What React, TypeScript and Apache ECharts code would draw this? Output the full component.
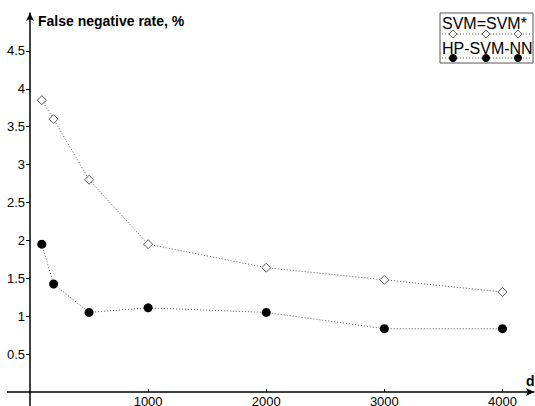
import React, { useEffect, useRef } from "react";
import * as echarts from "echarts";

const dValues = [100, 200, 500, 1000, 2000, 3000, 4000];
const svmValues = [3.85, 3.6, 2.8, 1.95, 1.64, 1.48, 1.32];
const hpValues = [1.95, 1.425, 1.05, 1.11, 1.05, 0.835, 0.835];
const xTicks = [1000, 2000, 3000, 4000];
const yTicks = [0.5, 1, 1.5, 2, 2.5, 3, 3.5, 4, 4.5];
const seriesNames = ["SVM=SVM*", "HP-SVM-NN"];
const yTitle = "False negative rate, %";
const xTitle = "d";

const FONT = "'Liberation Sans', Arial, sans-serif";

export default function App() {
  const ref = useRef<HTMLDivElement>(null);
  useEffect(() => {
    if (!ref.current) return;
    const chart = echarts.init(ref.current, null, { renderer: "svg" });
    const legendLine = (y: number) => ({
      type: "line",
      shape: { x1: 442, y1: y, x2: 532, y2: y },
      style: { stroke: "#666", lineWidth: 1, lineDash: [1, 2] },
      z: 101,
    });
    const diamond = (x: number, y: number) => ({
      type: "polygon",
      shape: { points: [[x, y - 4], [x + 4, y], [x, y + 4], [x - 4, y]] },
      style: { fill: "#fff", stroke: "#666", lineWidth: 1 },
      z: 102,
    });
    const dot = (x: number, y: number) => ({
      type: "circle",
      shape: { cx: x, cy: y, r: 4 },
      style: { fill: "#000" },
      z: 102,
    });
    chart.setOption({
      animation: false,
      textStyle: { fontFamily: FONT },
      grid: { left: 30, right: 1, top: 13, bottom: 14, containLabel: false, outerBoundsMode: "none" },
      xAxis: {
        type: "value",
        min: 0,
        max: 4267,
        splitLine: { show: false },
        axisLine: {
          lineStyle: { color: "#000", width: 1.5 },
          symbol: ["none", "arrow"],
          symbolSize: [6, 8],
        },
        axisTick: { show: true, inside: true, length: 3, customValues: xTicks, lineStyle: { color: "#000" } },
        axisLabel: {
          customValues: xTicks,
          color: "#000",
          fontSize: 13,
          margin: 3,
          fontFamily: FONT,
          formatter: (v: number) => String(v),
        },
      },
      yAxis: {
        type: "value",
        min: 0,
        max: 5.0,
        splitLine: { show: false },
        axisLine: {
          lineStyle: { color: "#000", width: 1.5 },
          symbol: ["none", "arrow"],
          symbolSize: [6, 8],
        },
        axisTick: { show: true, length: 4, customValues: yTicks, lineStyle: { color: "#000" } },
        axisLabel: {
          customValues: yTicks,
          color: "#000",
          fontSize: 13,
          margin: 5,
          fontFamily: FONT,
          formatter: (v: number) => String(v),
        },
      },
      series: [
        {
          name: seriesNames[0],
          type: "line",
          data: dValues.map((d, i) => [d, svmValues[i]]),
          symbol: "diamond",
          symbolSize: 9,
          lineStyle: { color: "#555", width: 1, type: [1, 2] },
          itemStyle: { color: "#fff", borderColor: "#555", borderWidth: 1 },
          z: 3,
        },
        {
          name: seriesNames[1],
          type: "line",
          data: dValues.map((d, i) => [d, hpValues[i]]),
          symbol: "circle",
          symbolSize: 9,
          lineStyle: { color: "#555", width: 1, type: [1, 2] },
          itemStyle: { color: "#000", borderColor: "#000", borderWidth: 0 },
          z: 3,
        },
      ],
      graphic: [
        {
          type: "line",
          shape: { x1: 7, y1: 392, x2: 31, y2: 392 },
          style: { stroke: "#000", lineWidth: 1.5 },
        },
        {
          type: "line",
          shape: { x1: 30, y1: 391, x2: 30, y2: 406 },
          style: { stroke: "#000", lineWidth: 1.5 },
        },
        {
          type: "text",
          left: 38,
          top: 14,
          style: { text: yTitle, font: `bold 14px ${FONT}`, fill: "#000" },
        },
        {
          type: "text",
          left: 526,
          top: 374,
          style: { text: xTitle, font: `bold 14px ${FONT}`, fill: "#000" },
        },
        {
          type: "rect",
          shape: { x: 440, y: 13, width: 93, height: 50 },
          style: { fill: "#fff", stroke: "#555", lineWidth: 1 },
          z: 100,
        },
        {
          type: "text",
          x: 442,
          y: 15,
          style: { text: seriesNames[0], font: `16px ${FONT}`, fill: "#000" },
          z: 101,
        },
        {
          type: "text",
          x: 442,
          y: 40,
          style: { text: seriesNames[1], font: `16px ${FONT}`, fill: "#000" },
          z: 101,
        },
        legendLine(34),
        legendLine(58),
        diamond(453, 34),
        diamond(486, 34),
        diamond(518, 34),
        dot(453, 58),
        dot(486, 58),
        dot(518, 58),
      ],
    });
    return () => chart.dispose();
  }, []);
  return <div ref={ref} style={{ width: 535, height: 406, position: "absolute", left: 0, top: 0 }} />;
}
